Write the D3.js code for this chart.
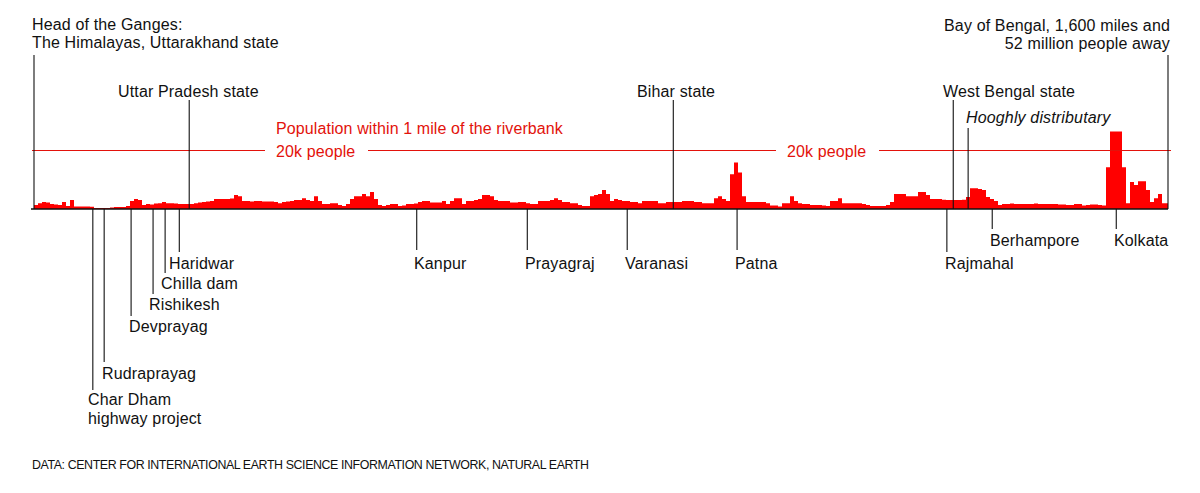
<!DOCTYPE html>
<html>
<head>
    <meta charset="utf-8">
    <title>Population along the Ganges</title>
    <script src="https://d3js.org/d3.v7.min.js"></script>
    <style>
        body { margin: 0; background: #fff; }
        svg { display: block; }
        text { font-family: "Liberation Sans", sans-serif; font-size: 16px; letter-spacing: 0.15px; fill: #111; }
    </style>
</head>
<body>
    <div id="chart"></div>
    <script>
        // population within 1 mile of the riverbank, thousands, source to sea
        var population = [
            1.4,2.0,2.4,2.2,1.7,1.5,1.4,2.4,1.0,3.1,.85,.85,.85,.85,.8,.34,.34,.34,.34,.5,.7,.7,.7,1.0,2.7,3.4,3.1,1.4,1.7,1.5,1.9,2.0,2.4,2.0,2.0,1.9,1.7,1.7,1.7,1.7,2.0,2.2,2.4,2.6,2.7,3.4,3.4,3.4,3.4,3.6,4.8,4.4,2.7,2.7,2.6,2.7,2.7,2.6,2.6,2.6,2.4,2.0,2.4,2.6,2.7,3.1,3.1,3.7,3.1,2.7,4.4,2.7,
            1.7,1.7,2.0,2.0,1.4,1.0,1.7,3.4,4.4,4.4,5.1,4.4,5.8,3.4,1.4,1.0,1.4,1.7,1.7,1.0,1.2,1.7,1.7,1.9,2.4,2.7,2.7,2.2,2.2,2.2,2.7,1.7,2.7,3.7,3.7,1.7,2.7,2.7,3.1,3.4,4.8,4.8,4.4,3.1,2.7,2.7,2.7,2.2,2.2,2.4,2.4,2.0,1.7,1.7,2.7,2.7,2.7,3.1,3.7,3.1,2.4,2.4,2.0,2.0,1.4,1.0,1.0,4.4,4.8,5.1,6.5,5.1,2.7,3.4,3.1,
            2.7,2.7,2.4,2.4,2.0,2.7,2.7,2.7,2.7,2.0,2.0,2.4,2.4,2.4,2.4,2.7,2.7,2.7,2.4,2.4,2.0,2.0,2.0,3.7,4.4,3.4,2.7,11.9,15.9,12.5,4.4,2.4,2.4,2.4,2.4,2.4,2.0,1.2,1.2,.85,2.0,2.0,4.4,2.7,2.0,1.7,1.7,1.4,1.4,1.4,1.2,1.0,2.7,2.7,3.7,2.0,2.0,2.0,2.0,2.0,1.7,1.4,1.0,1.0,1.0,1.0,1.4,2.4,5.1,5.1,5.1,4.4,4.4,4.4,5.8,
            5.8,4.8,3.4,3.4,3.4,3.2,3.1,3.1,3.1,3.1,3.2,4.1,7.1,7.1,6.8,6.5,4.1,3.4,2.7,1.4,1.7,1.7,1.9,1.7,1.7,1.7,1.7,1.7,1.9,1.7,1.7,1.7,1.7,1.7,1.5,1.5,1.4,1.4,1.7,1.7,1.2,1.4,1.5,1.5,1.4,1.2,14.3,26.5,26.5,26.5,14.3,2.0,9.2,8.2,9.5,9.5,6.5,2.4,3.7,5.1,2.0,2.0
        ];

        // places along the river, miles from the source
        var abovePlaces = ["Head of the Ganges", "Uttar Pradesh state", "Bihar state", "West Bengal state", "Hooghly distributary", "Bay of Bengal"];
        var aboveMiles = [0, 219, 902, 1297, 1318, 1600];
        var belowPlaces = ["Char Dham", "Rudraprayag", "Devprayag", "Rishikesh", "Chilla dam", "Haridwar", "Kanpur", "Prayagraj", "Varanasi", "Patna", "Rajmahal", "Berhampore", "Kolkata"];
        var belowMiles = [83, 99, 137, 168, 185, 205, 540, 696, 837, 992, 1288, 1352, 1527];

        var riverMiles = 1600;
        var referenceLevel = 20; // thousand people

        var width = 1200, height = 493;
        var baseY = 209;

        var x = d3.scaleLinear().domain([0, riverMiles]).range([34, 1168]);
        var y = d3.scaleLinear().domain([0, referenceLevel]).range([baseY, 150.5]);
        var binMiles = riverMiles / (population.length - 0.5);

        var svg = d3.select("#chart").append("svg")
            .attr("width", width)
            .attr("height", height);

        // population profile, stepped like the source
        var area = d3.area()
            .curve(d3.curveStepAfter)
            .x(function (d) { return x(d.mile); })
            .y0(y(0))
            .y1(function (d) { return y(d.value); });

        var profile = population.map(function (d, i) { return { mile: i * binMiles, value: d }; });
        profile.push({ mile: riverMiles, value: population[population.length - 1] });

        svg.append("path")
            .datum(profile)
            .attr("d", area)
            .attr("fill", "#ff0000");

        // 20k reference line, broken around its labels
        var red = "#e3120b";
        [[32, 265], [368, 776], [879, 1171]].forEach(function (seg) {
            svg.append("line")
                .attr("x1", seg[0]).attr("x2", seg[1])
                .attr("y1", y(referenceLevel)).attr("y2", y(referenceLevel))
                .attr("stroke", red)
                .attr("stroke-width", 1.2);
        });

        // leader lines
        var aboveTop = [55, 100, 100, 100, 128, 55];
        var belowEnd = [390, 362, 316, 294, 273, 252, 250, 250, 250, 250, 252, 229, 229];

        aboveMiles.forEach(function (m, i) {
            svg.append("line")
                .attr("x1", x(m)).attr("x2", x(m))
                .attr("y1", aboveTop[i]).attr("y2", baseY)
                .attr("stroke", "#111")
                .attr("stroke-width", 1.1);
        });
        belowMiles.forEach(function (m, i) {
            svg.append("line")
                .attr("x1", x(m)).attr("x2", x(m))
                .attr("y1", baseY).attr("y2", belowEnd[i])
                .attr("stroke", "#111")
                .attr("stroke-width", 1.1);
        });

        // baseline
        svg.append("line")
            .attr("x1", 31).attr("x2", x(riverMiles))
            .attr("y1", baseY).attr("y2", baseY)
            .attr("stroke", "#111")
            .attr("stroke-width", 1.3);

        // text labels: [string, x, y, anchor]
        var labels = [
            ["Head of the Ganges:", 32, 30],
            ["The Himalayas, Uttarakhand state", 32, 48],
            ["Bay of Bengal, 1,600 miles and", 1170, 31, "end"],
            ["52 million people away", 1170, 49, "end"],
            ["Uttar Pradesh state", 118, 97],
            ["Bihar state", 637, 97],
            ["West Bengal state", 943, 97],
            ["Haridwar", 169, 269],
            ["Chilla dam", 161, 289],
            ["Rishikesh", 149, 310],
            ["Devprayag", 129, 332],
            ["Rudraprayag", 102, 379],
            ["Char Dham", 88, 405],
            ["highway project", 88, 424],
            ["Kanpur", 414, 269],
            ["Prayagraj", 525, 269],
            ["Varanasi", 625, 269],
            ["Patna", 735, 269],
            ["Rajmahal", 945, 269],
            ["Berhampore", 990, 246],
            ["Kolkata", 1114, 246]
        ];
        svg.selectAll(".label")
            .data(labels)
            .enter().append("text")
            .attr("class", "label")
            .attr("x", function (d) { return d[1]; })
            .attr("y", function (d) { return d[2]; })
            .attr("text-anchor", function (d) { return d[3] || "start"; })
            .text(function (d) { return d[0]; });

        svg.append("text")
            .attr("x", 966).attr("y", 123)
            .style("font-style", "italic")
            .text("Hooghly distributary");

        var redLabels = [
            ["Population within 1 mile of the riverbank", 276, 134],
            ["20k people", 276, 157],
            ["20k people", 787, 157]
        ];
        svg.selectAll(".redlabel")
            .data(redLabels)
            .enter().append("text")
            .attr("class", "redlabel")
            .attr("x", function (d) { return d[1]; })
            .attr("y", function (d) { return d[2]; })
            .style("fill", red)
            .style("letter-spacing", "0.1px")
            .text(function (d) { return d[0]; });

        svg.append("text")
            .attr("x", 32).attr("y", 469)
            .style("font-size", "12.4px")
            .style("letter-spacing", "-0.4px")
            .text("DATA: CENTER FOR INTERNATIONAL EARTH SCIENCE INFORMATION NETWORK, NATURAL EARTH");
    </script>
</body>
</html>
